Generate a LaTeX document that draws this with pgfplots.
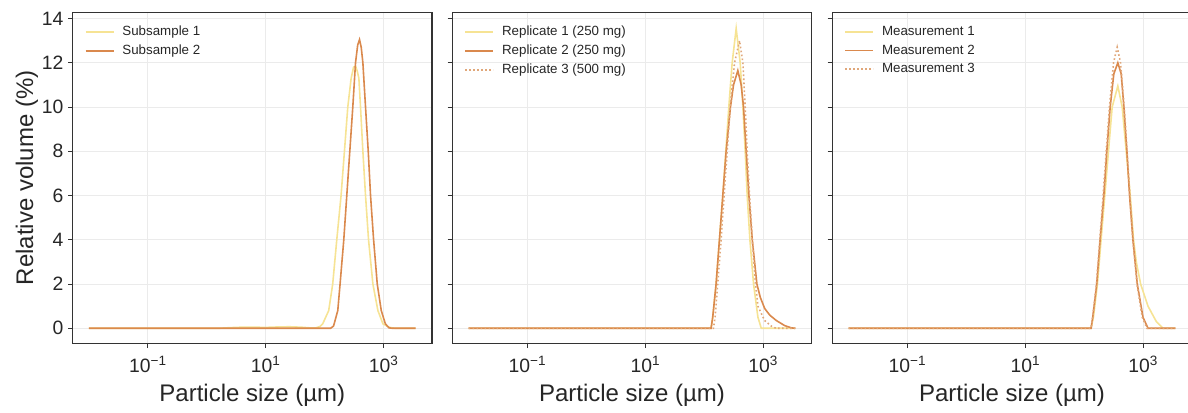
\documentclass[border=0pt]{standalone}
\usepackage{fontspec}
\setmainfont{Liberation Sans}
\usepackage{pgfplots}
\pgfplotsset{compat=1.18}
\definecolor{cyel}{HTML}{F6E394}
\definecolor{corg}{HTML}{DA894D}
\definecolor{cdot}{HTML}{E0A77A}
\definecolor{framec}{HTML}{333333}
\definecolor{gridc}{HTML}{EBEBEB}
\definecolor{txt}{HTML}{262626}
\pgfplotsset{
 panel/.style={
  scale only axis, width=269.5pt, height=248.25pt,
  xmin=-2.277, xmax=3.821, ymin=-0.68, ymax=14.28,
  xtick={-1,1,3},
  xticklabels={10\textsuperscript{−1},10\textsuperscript{1},10\textsuperscript{3}},
  ytick={0,2,...,14},
  grid=major, major grid style={gridc, line width=0.8pt},
  axis line style={framec, line width=1.1pt},
  tick pos=left, tick align=outside, major tick length=3.5pt,
  tick style={framec, line width=0.8pt},
  tick label style={font=\fontsize{14.5}{17}\selectfont, text=txt},
  xticklabel style={yshift=-2.5pt},
  /pgf/number format/assume math mode=true,
  every axis x label/.style={at={(axis description cs:0.5,-0.156)}, anchor=center,
     font=\fontsize{18}{22}\selectfont, text=txt},
  every axis y label/.style={at={(axis description cs:-0.127,0.5)}, anchor=center, rotate=90,
     font=\fontsize{18}{22}\selectfont, text=txt},
  xlabel={Particle size (µm)},
  legend style={draw=none, fill=none, at={(0.022,0.975)}, anchor=north west,
     font=\fontsize{10}{12}\selectfont, text=txt, row sep=1.5pt},
  legend cell align=left,
  legend image code/.code={\draw[##1] (0pt,0pt) -- (21pt,0pt); \path (25pt,0pt);},
 },
 ly/.style={cyel, line width=1.2pt},
 lo/.style={corg, line width=1.2pt},
 ld/.style={cdot, line width=1.2pt, dash pattern=on 1.2pt off 1.8pt},
}
\begin{document}
\begin{tikzpicture}
% Panel 1
\begin{axis}[panel, at={(54.5pt,51.5pt)}, anchor=south west,
  ylabel={Relative volume (\%)}]
\addplot[ly] coordinates {(-2,0) (0.2,0) (0.4,0.03) (0.6,0.05) (0.8,0.05) (1.0,0.04) (1.2,0.06) (1.4,0.07) (1.6,0.05) (1.75,0.02) (1.85,0.02) (1.92,0.08) (1.966,0.2) (2.068,0.8) (2.136,2.0) (2.205,4.0) (2.278,6.0) (2.335,8.0) (2.392,10.0) (2.449,11.3) (2.49,11.8) (2.523,11.85) (2.555,11.6) (2.580,11.3) (2.608,10.0) (2.648,8.0) (2.693,6.0) (2.744,4.0) (2.818,2.0) (2.903,0.8) (2.989,0.2) (3.102,0.04) (3.2,0) (3.544,0)};
\addlegendentry{Subsample 1}
\addplot[lo] coordinates {(-2,0) (2.10,0) (2.15,0.1) (2.222,0.8) (2.261,2.0) (2.324,4.0) (2.375,6.0) (2.426,8.0) (2.477,10.0) (2.523,12.0) (2.56,12.8) (2.591,13.05) (2.62,12.7) (2.648,12.0) (2.693,10.0) (2.739,8.0) (2.778,6.0) (2.830,4.0) (2.892,2.0) (2.960,0.8) (3.03,0.2) (3.091,0.02) (3.15,0) (3.544,0)};
\addlegendentry{Subsample 2}
\end{axis}
% Panel 2
\begin{axis}[panel, at={(339.2pt,51.5pt)}, anchor=south west, yticklabels={}]
\addplot[ly] coordinates {(-2,0) (2.115,0) (2.143,0.5) (2.200,2.0) (2.257,4.0) (2.314,6.0) (2.365,8.0) (2.416,10.0) (2.473,12.0) (2.541,13.55) (2.609,12.0) (2.655,10.0) (2.694,8.0) (2.728,6.0) (2.774,4.0) (2.836,2.0) (2.910,0.5) (2.967,0) (3.544,0)};
\addlegendentry{Replicate 1 (250 mg)}
\addplot[lo] coordinates {(-2,0) (2.115,0) (2.143,0.5) (2.200,2.0) (2.257,4.0) (2.314,6.0) (2.371,8.0) (2.444,10.0) (2.496,11.0) (2.569,11.65) (2.626,11.0) (2.666,10.0) (2.711,8.0) (2.757,6.0) (2.814,4.0) (2.893,2.0) (2.950,1.4) (3.024,0.9) (3.109,0.6) (3.223,0.35) (3.365,0.12) (3.478,0.02) (3.544,0)};
\addlegendentry{Replicate 2 (250 mg)}
\addplot[ld] coordinates {(-2,0) (2.155,0) (2.183,0.5) (2.228,2.0) (2.285,4.0) (2.336,6.0) (2.388,8.0) (2.439,10.0) (2.513,12.0) (2.598,13.0) (2.655,12.0) (2.694,10.0) (2.728,8.0) (2.768,6.0) (2.814,4.0) (2.870,2.0) (2.910,1.0) (3.024,0.35) (3.137,0.1) (3.217,0) (3.544,0)};
\addlegendentry{Replicate 3 (500 mg)}
\end{axis}
% Panel 3
\begin{axis}[panel, at={(624.2pt,51.5pt)}, anchor=south west, yticklabels={}]
\addplot[ly] coordinates {(-2,0) (2.115,0) (2.155,0.5) (2.223,2.0) (2.285,4.0) (2.348,6.0) (2.410,8.0) (2.473,10.0) (2.569,10.95) (2.643,10.0) (2.711,8.0) (2.780,6.0) (2.836,4.0) (2.882,3.0) (2.956,2.0) (3.081,1.0) (3.223,0.3) (3.336,0) (3.544,0)};
\addlegendentry{Measurement 1}
\addplot[lo] coordinates {(-2,0) (2.115,0) (2.143,0.5) (2.211,2.0) (2.268,4.0) (2.331,6.0) (2.382,8.0) (2.439,10.0) (2.501,11.5) (2.569,12.0) (2.626,11.5) (2.672,10.0) (2.723,8.0) (2.768,6.0) (2.825,4.0) (2.899,2.0) (2.996,0.5) (3.081,0) (3.544,0)};
\addlegendentry{Measurement 2}
\addplot[ld] coordinates {(-2,0) (2.115,0) (2.143,0.5) (2.206,2.0) (2.263,4.0) (2.319,6.0) (2.371,8.0) (2.427,10.0) (2.496,12.0) (2.558,12.7) (2.615,12.0) (2.677,10.0) (2.728,8.0) (2.774,6.0) (2.825,4.0) (2.893,2.0) (2.984,0.5) (3.064,0) (3.544,0)};
\addlegendentry{Measurement 3}
\end{axis}
\pgfresetboundingbox
\path[use as bounding box] (0pt,0pt) rectangle (891pt,309pt);
\end{tikzpicture}
\end{document}
